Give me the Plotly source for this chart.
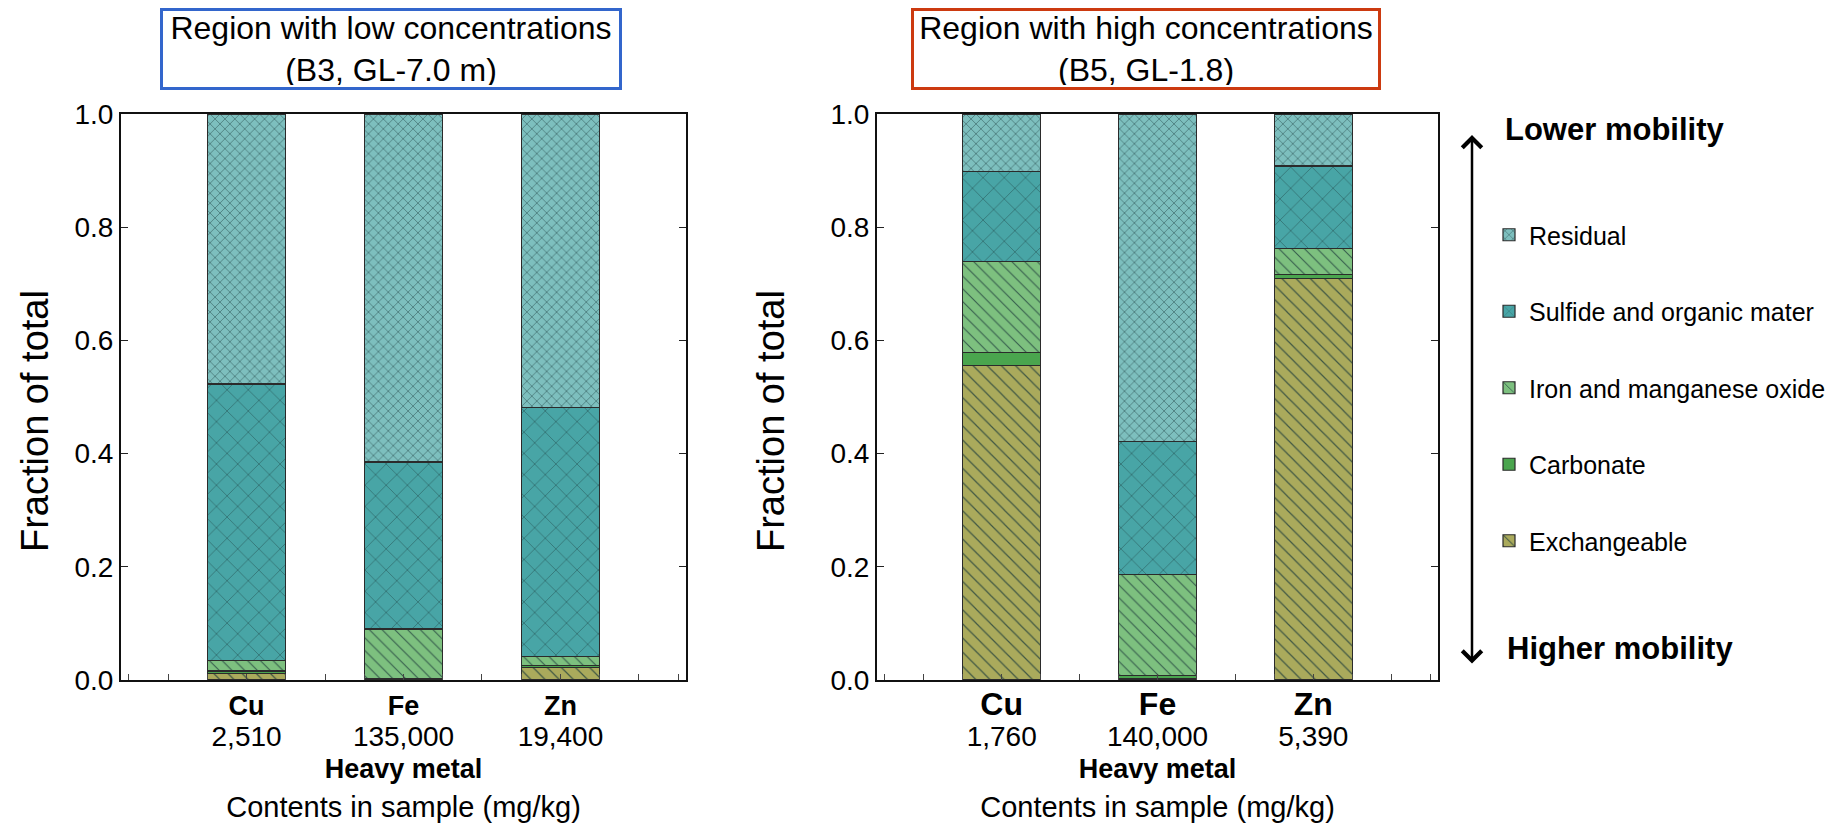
import plotly.graph_objects as go

# ---------------- data ----------------
metals = ["Cu", "Fe", "Zn"]
positions = [1, 2, 3]
contents_low = ["2,510", "135,000", "19,400"]
contents_high = ["1,760", "140,000", "5,390"]

fractions = ["Exchangeable", "Carbonate", "Iron and manganese oxide",
             "Sulfide and organic mater", "Residual"]

# Region with low concentrations (B3, GL-7.0 m)
low_exchangeable = [0.012, 0.002, 0.022]
low_carbonate = [0.004, 0.001, 0.004]
low_iron_mn = [0.018, 0.087, 0.015]
low_sulfide = [0.489, 0.295, 0.441]
low_residual = [0.477, 0.615, 0.518]

# Region with high concentrations (B5, GL-1.8)
high_exchangeable = [0.555, 0.003, 0.710]
high_carbonate = [0.023, 0.005, 0.006]
high_iron_mn = [0.162, 0.178, 0.047]
high_sulfide = [0.158, 0.236, 0.145]
high_residual = [0.102, 0.578, 0.092]

low_values = [low_exchangeable, low_carbonate, low_iron_mn, low_sulfide, low_residual]
high_values = [high_exchangeable, high_carbonate, high_iron_mn, high_sulfide, high_residual]

# ---------------- styles ----------------
FONT = "Liberation Sans, Arial, sans-serif"
W, H = 1846, 826
styles = [
    dict(color="#aaaa5c", shape="\\", size=10, solidity=0.12),   # exchangeable
    dict(color="#4aa54e", shape="", size=8, solidity=0.1),       # carbonate
    dict(color="#7dc07f", shape="\\", size=9, solidity=0.12),    # iron & Mn oxide
    dict(color="#48a5a6", shape="x", size=15, solidity=0.07),    # sulfide & OM
    dict(color="#7dbfbe", shape="x", size=7, solidity=0.16),     # residual
]

fig = go.Figure()

def add_panel(values, xa, ya, showlegend):
    n = len(fractions)
    for i, (name, vals, st) in enumerate(zip(fractions, values, styles)):
        fig.add_trace(go.Bar(
            x=positions, y=vals, name=name, width=0.5,
            xaxis=xa, yaxis=ya,
            legendgroup=name, showlegend=showlegend, legendrank=n - i,
            marker=dict(
                color=st["color"],
                line=dict(color="#2b2b2b", width=1.2),
                pattern=dict(shape=st["shape"], size=st["size"], solidity=st["solidity"],
                             fgcolor="#1c3a3a", fgopacity=0.75, bgcolor=st["color"],
                             fillmode="overlay"),
            ),
            hovertemplate=name + ": %{y:.3f}<extra></extra>",
        ))

add_panel(low_values, "x", "y", True)
add_panel(high_values, "x2", "y2", False)

def ticktext(contents, name_size):
    return [f"<span style='font-size:{name_size}px'><b>{m}</b></span><br>"
            f"<span style='font-size:28px'>{c}</span>"
            for m, c in zip(metals, contents)]

xcommon = dict(
    range=[0.2, 3.8], tickmode="array", tickvals=positions, automargin=False,
    ticks="", showline=True, linecolor="#111", linewidth=2, mirror=True,
    showgrid=False, zeroline=False, ticklabelstandoff=4,
    tickfont=dict(family=FONT, size=24, color="black"),
    minor=dict(dtick=0.25, tick0=0.25, ticks="inside", ticklen=6, tickcolor="#444", tickwidth=1),
)
ycommon = dict(
    range=[0, 1], dtick=0.2, tickformat=".1f", ticks="inside", ticklen=7, automargin=False,
    tickcolor="#222", showline=True, linecolor="#111", linewidth=2, mirror="ticks",
    showgrid=False, zeroline=False,
    tickfont=dict(family=FONT, size=28, color="black"),
)
xtitle = ("<span style='font-size:27px'><b>Heavy metal</b></span><br>"
          "<span style='font-size:29px'>Contents in sample (mg/kg)</span>")

fig.update_layout(
    width=W, height=H,
    margin=dict(l=0, r=0, t=0, b=0, autoexpand=False),
    paper_bgcolor="white", plot_bgcolor="white",
    barmode="stack", bargap=0.5,
    font=dict(family=FONT, color="black"),
    xaxis=dict(xcommon, domain=[121 / W, 686 / W], anchor="y",
               ticktext=ticktext(contents_low, 27),
               title=dict(text=xtitle, font=dict(size=30), standoff=6)),
    yaxis=dict(ycommon, domain=[1 - 680 / H, 1 - 114 / H], anchor="x"),
    xaxis2=dict(xcommon, domain=[877 / W, 1438 / W], anchor="y2",
                ticktext=ticktext(contents_high, 32),
                title=dict(text=xtitle, font=dict(size=30), standoff=6)),
    yaxis2=dict(ycommon, domain=[1 - 680 / H, 1 - 114 / H], anchor="x2"),
    legend=dict(
        x=1489 / W, y=1 - 212 / H, xanchor="left", yanchor="top",
        traceorder="grouped", tracegroupgap=41,
        font=dict(family=FONT, size=25, color="black"),
        bgcolor="rgba(0,0,0,0)", itemclick=False, itemdoubleclick=False,
    ),
)

annotations = [
    dict(text="Region with low concentrations<br>(B3, GL-7.0 m)",
         x=391 / W, y=1 - 48.5 / H, xref="paper", yref="paper",
         xanchor="center", yanchor="middle", showarrow=False,
         font=dict(family=FONT, size=32, color="black"),
         bordercolor="#3366cc", borderwidth=3, borderpad=2, width=452, height=72,
         bgcolor="white"),
    dict(text="Region with high concentrations<br>(B5, GL-1.8)",
         x=1146 / W, y=1 - 48.5 / H, xref="paper", yref="paper",
         xanchor="center", yanchor="middle", showarrow=False,
         font=dict(family=FONT, size=32, color="black"),
         bordercolor="#cc3a10", borderwidth=3, borderpad=2, width=460, height=72,
         bgcolor="white"),
    dict(text="Fraction of total", x=35 / W, y=1 - 421 / H, xref="paper", yref="paper",
         xanchor="center", yanchor="middle", textangle=-90, showarrow=False,
         font=dict(family=FONT, size=38, color="black")),
    dict(text="Fraction of total", x=771 / W, y=1 - 421 / H, xref="paper", yref="paper",
         xanchor="center", yanchor="middle", textangle=-90, showarrow=False,
         font=dict(family=FONT, size=38, color="black")),
    dict(text="<b>Lower mobility</b>", x=1503 / W, y=1 - 130 / H,
         xref="paper", yref="paper", xanchor="left", yanchor="middle",
         showarrow=False, font=dict(family=FONT, size=31, color="black")),
    dict(text="<b>Higher mobility</b>", x=1505 / W, y=1 - 648 / H,
         xref="paper", yref="paper", xanchor="left", yanchor="middle",
         showarrow=False, font=dict(family=FONT, size=31, color="black")),
    dict(text="", x=1472 / W, y=1 - 135 / H, xref="paper", yref="paper",
         ax=0, ay=530, axref="pixel", ayref="pixel",
         showarrow=True, arrowside="end+start", arrowhead=4, startarrowhead=4,
         arrowwidth=2.5, arrowsize=1.5, startarrowsize=1.5, arrowcolor="black"),
]
fig.update_layout(annotations=annotations)

fig.write_html("out.html", config={"displayModeBar": False},
               post_script="document.body.style.margin='0';document.body.style.overflow='hidden';")
